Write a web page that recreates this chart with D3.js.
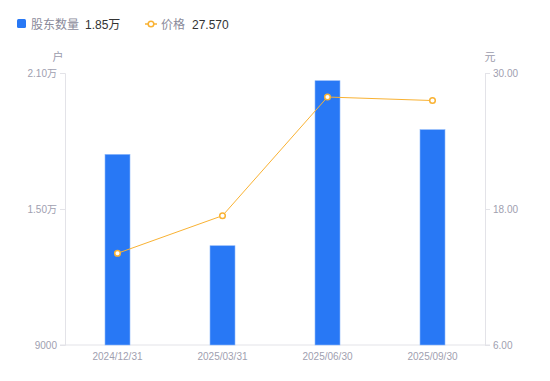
<!DOCTYPE html>
<html>
<head>
<meta charset="utf-8">
<script src="https://cdn.jsdelivr.net/npm/d3@7"></script>
<style>
  body { margin: 0; background: #fff; }
  svg text { font-family: "Liberation Sans", Arial, "Noto Sans CJK SC", sans-serif; }
</style>
</head>
<body>
<script>
// data
var dates = ["2024/12/31", "2025/03/31", "2025/06/30", "2025/09/30"];
var holders = [17410, 13380, 20660, 18500];
var prices = [14.09, 17.41, 27.88, 27.57];
var leftTicks = [9000, 15000, 21000];
var rightTicks = [6, 18, 30];

var width = 550, height = 381;
var margin = {top: 73, right: 65, bottom: 36, left: 65};

var svg = d3.select("body").append("svg")
    .attr("width", width)
    .attr("height", height);

var x = d3.scaleBand()
    .domain(dates)
    .range([margin.left, width - margin.right]);

var yL = d3.scaleLinear()
    .domain([9000, 21000])
    .range([height - margin.bottom, margin.top]);

var yR = d3.scaleLinear()
    .domain([6, 30])
    .range([height - margin.bottom, margin.top]);

// 1.50万 style for values over 10000
var fmtL = function(d) { return d >= 10000 ? (d / 10000).toFixed(2) + "万" : d; };

// axes
var gl = svg.append("g")
    .attr("transform", "translate(" + margin.left + ",0)")
    .call(d3.axisLeft(yL).tickValues(leftTicks).tickFormat(fmtL).tickSize(5).tickPadding(3));
var gr = svg.append("g")
    .attr("transform", "translate(" + (width - margin.right) + ",0)")
    .call(d3.axisRight(yR).tickValues(rightTicks).tickFormat(d3.format(".2f")).tickSize(5).tickPadding(3));
var gx = svg.append("g")
    .attr("transform", "translate(0," + (height - margin.bottom) + ")")
    .call(d3.axisBottom(x).tickSize(0).tickPadding(8));

[gl, gr, gx].forEach(function(g) {
  g.select(".domain").attr("stroke", "#e3e3e8");
  g.selectAll(".tick line").attr("stroke", "#e3e3e8");
  g.selectAll("text").attr("fill", "#a0a0b0").attr("font-size", 10);
});
gx.select(".domain").attr("d", "M" + (margin.left - 5) + ",0H" + (width - margin.right + 5));

// unit labels
svg.append("text").attr("x", 58).attr("y", 61).attr("text-anchor", "middle")
    .attr("fill", "#9b9bab").attr("font-size", 11).text("户");
svg.append("text").attr("x", 490).attr("y", 61).attr("text-anchor", "middle")
    .attr("fill", "#9b9bab").attr("font-size", 11).text("元");

// bars
var bw = 25;
svg.selectAll("rect.bar")
    .data(holders)
    .enter().append("rect")
    .attr("class", "bar")
    .attr("x", function(d, i) { return x(dates[i]) + x.bandwidth() / 2 - bw / 2; })
    .attr("y", function(d) { return yL(d); })
    .attr("width", bw)
    .attr("height", function(d) { return yL(9000) - yL(d); })
    .attr("fill", "#2878f5")
    .attr("stroke", "#8db8fa")
    .attr("stroke-width", 0.6);

// price line
var line = d3.line()
    .x(function(d, i) { return x(dates[i]) + x.bandwidth() / 2; })
    .y(function(d) { return yR(d); });
svg.append("path")
    .datum(prices)
    .attr("d", line)
    .attr("fill", "none")
    .attr("stroke", "#f9b233")
    .attr("stroke-width", 1);
svg.selectAll("circle.pt")
    .data(prices)
    .enter().append("circle")
    .attr("class", "pt")
    .attr("cx", function(d, i) { return x(dates[i]) + x.bandwidth() / 2; })
    .attr("cy", function(d) { return yR(d); })
    .attr("r", 2.8)
    .attr("fill", "#fff")
    .attr("stroke", "#f9b233")
    .attr("stroke-width", 1.5);

// legend
var lg = svg.append("g").attr("font-size", 12);
lg.append("rect").attr("x", 17).attr("y", 19).attr("width", 9).attr("height", 9)
    .attr("rx", 1.5).attr("fill", "#2878f5");
lg.append("text").attr("x", 31).attr("y", 28.5).attr("fill", "#8a8a9a").text("股东数量");
lg.append("text").attr("x", 85).attr("y", 28.5).attr("fill", "#333").text(fmtL(holders[3]));
lg.append("line").attr("x1", 145).attr("x2", 157).attr("y1", 24).attr("y2", 24)
    .attr("stroke", "#f9b233").attr("stroke-width", 1.5);
lg.append("circle").attr("cx", 151).attr("cy", 24).attr("r", 2.8)
    .attr("fill", "#fff").attr("stroke", "#f9b233").attr("stroke-width", 1.5);
lg.append("text").attr("x", 161).attr("y", 28.5).attr("fill", "#8a8a9a").text("价格");
lg.append("text").attr("x", 192).attr("y", 28.5).attr("fill", "#333").text(prices[3].toFixed(3));
</script>
</body>
</html>
